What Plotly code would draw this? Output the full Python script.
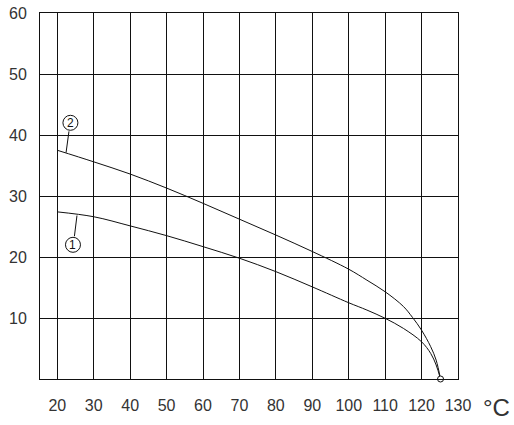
import plotly.graph_objects as go

# curve (2)
temp_2 = [20, 30, 40, 50, 60, 70, 80, 90, 100, 105, 110, 115, 117.5, 120, 122.5, 124, 125.2]
val_2 = [37.5, 35.6, 33.6, 31.3, 28.8, 26.2, 23.6, 20.9, 18.0, 16.2, 14.3, 11.9, 10.1, 8.0, 5.3, 3.1, 0]

# curve (1)
temp_1 = [20, 30, 40, 50, 60, 70, 80, 90, 100, 105, 110, 115, 120, 122.5, 124, 125.2]
val_1 = [27.4, 26.6, 25.1, 23.5, 21.7, 19.8, 17.6, 15.1, 12.5, 11.3, 9.95, 8.3, 6.1, 4.2, 2.3, 0]

# callouts: label, circle centre, leader start, leader end
callouts = [
    ("2", (23.6, 42.0), (23.2, 40.6), (22.4, 37.1)),
    ("1", (24.3, 22.0), (25.4, 26.8), (24.7, 23.4)),
]

x_ticks = [20, 30, 40, 50, 60, 70, 80, 90, 100, 110, 120, 130]
y_ticks = [10, 20, 30, 40, 50, 60]

font = "Liberation Sans, Arial, sans-serif"
ink = "#111111"

fig = go.Figure()

for xs, ys in [(temp_2, val_2), (temp_1, val_1)]:
    fig.add_trace(
        go.Scatter(
            x=xs,
            y=ys,
            mode="lines",
            line=dict(color=ink, width=1, shape="spline", smoothing=1.0),
            showlegend=False
        )
    )

# end point
fig.add_trace(
    go.Scatter(
        x=[temp_2[-1]],
        y=[0],
        mode="markers",
        marker=dict(size=6, color="white", line=dict(color=ink, width=1)),
        showlegend=False,
        cliponaxis=False
    )
)

for label, c, a, b in callouts:
    fig.add_trace(
        go.Scatter(
            x=[a[0], b[0]],
            y=[a[1], b[1]],
            mode="lines",
            line=dict(color=ink, width=1),
            showlegend=False
        )
    )
    fig.add_shape(
        type="circle",
        xref="x", yref="y",
        xsizemode="pixel", ysizemode="pixel",
        xanchor=c[0], yanchor=c[1],
        x0=-7.5, x1=7.5, y0=-7.5, y1=7.5,
        line=dict(color=ink, width=1),
        fillcolor="white"
    )
    fig.add_annotation(
        x=c[0], y=c[1],
        text=label,
        showarrow=False,
        font=dict(family=font, size=12, color=ink)
    )

fig.add_annotation(
    x=1.055, y=0, xref="paper", yref="paper",
    yshift=-28,
    xanchor="left", yanchor="middle",
    text="°C",
    showarrow=False,
    font=dict(family=font, size=24, color="#333333")
)

fig.update_layout(
    width=514,
    height=425,
    margin=dict(l=40, r=56, t=13, b=46, autoexpand=False),
    paper_bgcolor="white",
    plot_bgcolor="white",
    hovermode=False,
    font=dict(family=font, size=16, color="#333333"),
    xaxis=dict(
        range=[15.25, 130],
        tickvals=x_ticks,
        showgrid=True,
        gridcolor=ink,
        gridwidth=1,
        showline=True,
        linecolor=ink,
        linewidth=1,
        mirror=True,
        zeroline=False,
        ticks="",
        automargin=False,
        ticklabelstandoff=12
    ),
    yaxis=dict(
        range=[0, 60],
        tickvals=y_ticks,
        showgrid=True,
        gridcolor=ink,
        gridwidth=1,
        showline=True,
        linecolor=ink,
        linewidth=1,
        mirror=True,
        zeroline=False,
        ticks="",
        automargin=False,
        ticklabelstandoff=9
    )
)

fig.write_html(
    "out.html",
    config={"displayModeBar": False},
    post_script="document.body.style.margin='0';"
)
